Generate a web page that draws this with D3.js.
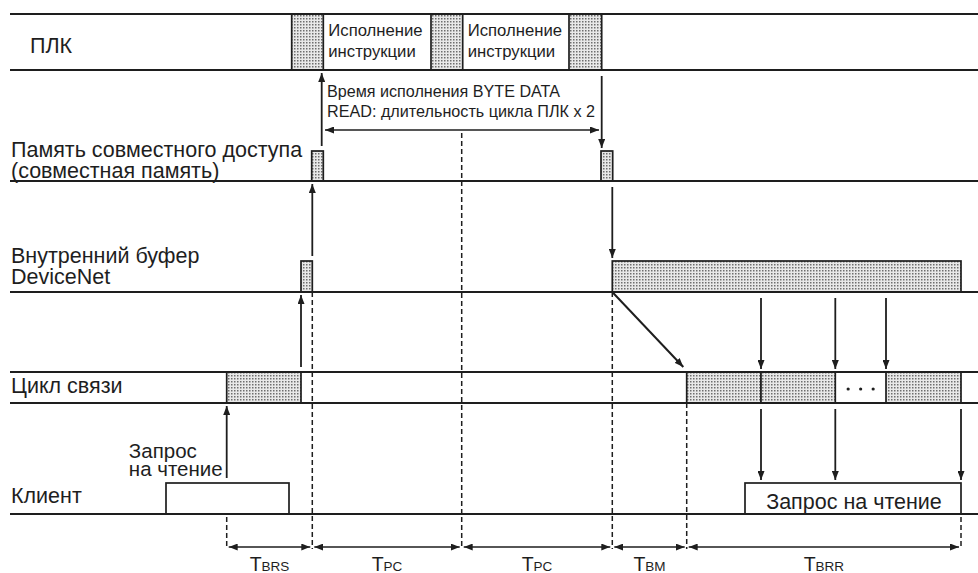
<!DOCTYPE html>
<html>
<head>
<meta charset="utf-8">
<script src="https://cdn.jsdelivr.net/npm/d3@7"></script>
<style>
  html, body { margin: 0; padding: 0; background: #fff; }
  svg { display: block; font-family: "Liberation Sans", Arial, Helvetica, sans-serif; }
</style>
</head>
<body>
<div id="chart"></div>
<script>
// lanes of the timing diagram, top to bottom
const lanes = ['plc', 'shared', 'buffer', 'comm', 'client'];
const laneLabels = [
  ['ПЛК'],
  ['Память совместного доступа', '(совместная память)'],
  ['Внутренний буфер', 'DeviceNet'],
  ['Цикл связи'],
  ['Клиент']
];

// time marks (diagram units)
const boundaries = [216.7, 302.3, 451.7, 602.3, 676.7, 951];
const intervalMain = ['T', 'T', 'T', 'T', 'T'];
const intervalSub = ['BRS', 'PC', 'PC', 'BM', 'BRR'];

// shaded / open blocks per lane: [start, end]
const plcBlocks = [[281.7, 313.3], [421, 452.7], [559, 591.7]];
const plcTexts = ['Исполнение', 'инструкции'];
const sharedBlocks = [[301.7, 313.3], [591, 602.7]];
const bufferBlocks = [[291, 302.3], [602.3, 951]];
const commBlocks = [[216.7, 291], [676.7, 751], [751, 825.3], [876, 951]];
const clientBlocks = [[156, 279], [735, 951]];
const clientText = 'Запрос на чтение';
const requestText = ['Запрос', 'на чтение'];

// vertical arrows: [time, from lane, to lane]
const arrows = [
  [216.7, 4, 3],
  [291, 3, 2],
  [302.3, 2, 1],
  [311.7, 1, 0],
  [591.7, 0, 1],
  [602.3, 1, 2],
  [751, 2, 3], [825.3, 2, 3], [876, 2, 3],
  [751, 3, 4], [825.3, 3, 4], [951, 3, 4]
];
// diagonal transfer arrow: [start time, end time]
const diagArrow = [602.3, 673.3];
// execution time span
const execSpan = [315, 589];
const execText = ['Время исполнения BYTE DATA', 'READ: длительность цикла ПЛК x 2'];
// dashed guides: [time, start lane (or -1 = under exec span)]
const guides = [[216.7, 4], [302.3, 2], [451.7, -1], [602.3, 2], [676.7, 3], [951, 4]];

const width = 978, height = 573;
const ink = '#1e1e1e';
const labelSize = 21.5;

const x = d3.scaleLinear().domain([0, 968]).range([10, 978]);
const y = d3.scalePoint().domain(lanes).range([70, 514]);
const blockH = { plc: 56, shared: 30, buffer: 31, comm: 31, client: 31 };
const laneTop = l => y(l) - blockH[l];

const svg = d3.select('#chart').append('svg')
  .attr('width', width).attr('height', height);

const defs = svg.append('defs');
const pat = defs.append('pattern')
  .attr('id', 'dots').attr('patternUnits', 'userSpaceOnUse')
  .attr('width', 3).attr('height', 3);
pat.append('rect').attr('width', 3).attr('height', 3).attr('fill', '#e8e8e8');
pat.append('rect').attr('width', 1.5).attr('height', 1.5).attr('fill', '#6e6e6e');

defs.append('marker')
  .attr('id', 'head').attr('viewBox', '0 0 10 10')
  .attr('refX', 10).attr('refY', 5)
  .attr('markerUnits', 'userSpaceOnUse')
  .attr('markerWidth', 9).attr('markerHeight', 7)
  .attr('preserveAspectRatio', 'none')
  .attr('orient', 'auto-start-reverse')
  .append('path').attr('d', 'M0,0L10,5L0,10Z').attr('fill', ink);

// dashed guides
const spanY = 130;
const dimY = y('client') + 33;
svg.append('g').selectAll('line').data(guides).join('line')
  .attr('x1', d => x(d[0])).attr('x2', d => x(d[0]))
  .attr('y1', d => d[1] < 0 ? spanY + 3 : y(lanes[d[1]]) + (d[1] === 4 ? 3 : 0))
  .attr('y2', dimY + 2)
  .attr('stroke', ink).attr('stroke-width', 1.5).attr('stroke-dasharray', '5,3');

// blocks
const drawBlocks = (data, lane, fill) => {
  svg.append('g').selectAll('rect').data(data).join('rect')
    .attr('x', d => x(d[0])).attr('width', d => x(d[1]) - x(d[0]))
    .attr('y', laneTop(lane)).attr('height', blockH[lane])
    .attr('fill', fill).attr('stroke', ink).attr('stroke-width', 1.7);
};
drawBlocks(plcBlocks, 'plc', 'url(#dots)');
drawBlocks(sharedBlocks, 'shared', 'url(#dots)');
drawBlocks(bufferBlocks, 'buffer', 'url(#dots)');
drawBlocks(commBlocks, 'comm', 'url(#dots)');
drawBlocks(clientBlocks, 'client', '#fff');

// lane lines
const lineG = svg.append('g').attr('stroke', ink).attr('stroke-width', 2);
lanes.forEach(l => {
  lineG.append('line').attr('x1', 10).attr('x2', width).attr('y1', y(l)).attr('y2', y(l));
});
['plc', 'comm'].forEach(l => {
  lineG.append('line').attr('x1', 10).attr('x2', width).attr('y1', laneTop(l)).attr('y2', laneTop(l));
});

// "..." in comm cycle gap
svg.append('g').selectAll('circle').data([0, 1, 2]).join('circle')
  .attr('cx', i => (x(825.3) + x(876)) / 2 - 12.5 + i * 12.5)
  .attr('cy', laneTop('comm') + 17).attr('r', 1.6).attr('fill', ink);

// PLC execution texts
plcBlocks.slice(0, 2).forEach(b => {
  const t = svg.append('text').attr('font-size', 16.7).attr('fill', ink);
  plcTexts.forEach((s, i) => t.append('tspan').attr('x', x(b[1]) + 5).attr('y', 36 + i * 21).text(s));
});

// vertical arrows
svg.append('g').selectAll('line').data(arrows).join('line')
  .attr('x1', d => x(d[0])).attr('x2', d => x(d[0]))
  .attr('y1', d => d[2] < d[1] ? laneTop(lanes[d[1]]) - 5 : y(lanes[d[1]]) + 6)
  .attr('y2', d => d[2] < d[1] ? y(lanes[d[2]]) + 3 : laneTop(lanes[d[2]]) - 3)
  .attr('stroke', ink).attr('stroke-width', 1.8)
  .attr('marker-end', 'url(#head)');

// diagonal arrow
svg.append('line')
  .attr('x1', x(diagArrow[0])).attr('y1', y('buffer'))
  .attr('x2', x(diagArrow[1])).attr('y2', laneTop('comm') - 5)
  .attr('stroke', ink).attr('stroke-width', 2)
  .attr('marker-end', 'url(#head)');

// execution span double arrow and text
svg.append('line')
  .attr('x1', x(execSpan[0])).attr('x2', x(execSpan[1]))
  .attr('y1', spanY).attr('y2', spanY)
  .attr('stroke', ink).attr('stroke-width', 1.6)
  .attr('marker-start', 'url(#head)').attr('marker-end', 'url(#head)');
const execLens = [233, 268];
execText.forEach((s, i) => {
  svg.append('text').attr('x', x(execSpan[0]) + 2).attr('y', 97 + i * 20)
    .attr('font-size', 16.5).attr('fill', ink)
    .attr('textLength', execLens[i]).attr('lengthAdjust', 'spacingAndGlyphs')
    .text(s);
});

// lane labels
const labelBase = [[53], [157, 178], [263, 284], [393], [503]];
const labelX = [30, 11, 11, 11, 11];
laneLabels.forEach((lines, i) => {
  const t = svg.append('text').attr('font-size', labelSize).attr('fill', ink);
  lines.forEach((s, j) => {
    t.append('tspan').attr('x', labelX[i]).attr('y', labelBase[i][j]).text(s);
  });
});

// request annotation (left aligned, longest line ends at the arrow)
const req = svg.append('text').attr('font-size', 20.5).attr('fill', ink);
const reqSpans = requestText.map((s, i) => req.append('tspan').attr('y', 458 + i * 17.5).text(s));
const reqW = d3.max(reqSpans, s => s.node().getComputedTextLength());
reqSpans.forEach(s => s.attr('x', x(216.7) - 4 - reqW));

svg.append('text')
  .attr('x', (x(clientBlocks[1][0]) + x(clientBlocks[1][1])) / 2 + 1)
  .attr('y', y('client') - 5)
  .attr('text-anchor', 'middle').attr('font-size', labelSize).attr('fill', ink)
  .text(clientText);

// interval dimension arrows
const intervals = d3.pairs(boundaries);
svg.append('g').selectAll('line').data(intervals).join('line')
  .attr('x1', d => x(d[0]) + 2).attr('x2', d => x(d[1]) - 2)
  .attr('y1', dimY).attr('y2', dimY)
  .attr('stroke', ink).attr('stroke-width', 1.6)
  .attr('marker-start', 'url(#head)').attr('marker-end', 'url(#head)');

const lab = svg.append('g').selectAll('text').data(intervals).join('text')
  .attr('x', d => (x(d[0]) + x(d[1])) / 2)
  .attr('y', 571).attr('text-anchor', 'middle').attr('fill', ink);
lab.append('tspan').attr('font-size', 19.5).text((d, i) => intervalMain[i]);
lab.append('tspan').attr('font-size', 13.5).text((d, i) => intervalSub[i]);
</script>
</body>
</html>
